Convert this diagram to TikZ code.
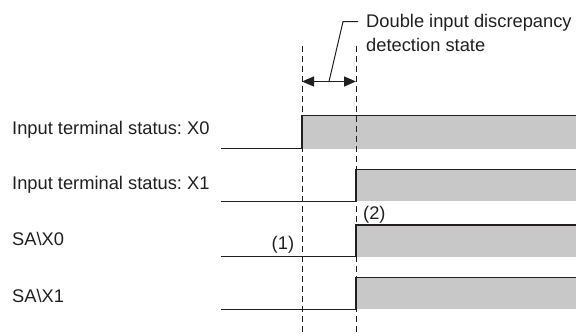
\documentclass[tikz,border=0pt]{standalone}
\usepackage{fontspec}
\setmainfont{Liberation Sans}
\usetikzlibrary{arrows.meta}
\definecolor{sig}{HTML}{C8C8C8}
\definecolor{ink}{HTML}{231F20}
\frenchspacing
\begin{document}
\begin{tikzpicture}[x=1pt,y=-1pt,
  lbl/.style={anchor=base west, inner sep=0pt, font=\fontsize{18.3}{22}\selectfont\frenchspacing, text=ink},
  wave/.style={draw=ink, line width=1.3pt},
  guide/.style={draw=ink, line width=1pt, dash pattern=on 6pt off 4pt},
  dimline/.style={draw=ink, line width=1.3pt, {Triangle[length=12pt,width=10pt]}-{Triangle[length=12pt,width=10pt]}},
  leader/.style={draw=ink, line width=1pt}]
\useasboundingbox (0,0) rectangle (576,336);

% signal labels
\node[lbl] (lx0) at (12,134.3) {Input terminal status: X0};
\node[lbl] (lx1) at (12,190) {Input terminal status: X1};
\node[lbl] (ls0) at (12,245.7) {SA\textbackslash X0};
\node[lbl] (ls1) at (12,302.3) {SA\textbackslash X1};

% waveforms
\fill[sig] (302,115.3) rectangle (576,148.7);
\draw[wave] (221,148.7) -- (302,148.7) -- (302,115.3) -- (576,115.3);

\fill[sig] (356,169.3) rectangle (576,201.3);
\draw[wave] (221,201.3) -- (356,201.3) -- (356,169.3) -- (576,169.3);

\fill[sig] (356,225) rectangle (576,256.7);
\draw[wave] (221,256.7) -- (356,256.7) -- (356,225) -- (576,225);

\fill[sig] (356,277.3) rectangle (576,309.3);
\draw[wave] (221,309.3) -- (356,309.3) -- (356,277.3) -- (576,277.3);

% timing guides
\coordinate (g1t) at (302,46);
\coordinate (g1b) at (302,336);
\coordinate (g2t) at (356,46);
\coordinate (g2b) at (356,336);
\draw[guide] (g1t) -- (g1b);
\draw[guide] (g2t) -- (g2b);

% discrepancy interval
\coordinate (a1) at (302,81.5);
\coordinate (a2) at (356,81.5);
\coordinate (am) at (329,81.5);
\draw[dimline] (a1) -- (a2);
\node[lbl] (t1) at (366,28) {Double input discrepancy};
\node[lbl] (t2) at (366,51.5) {detection state};
\coordinate (bend) at (343,21.7);
\coordinate (lend) at (358,21.7);
\draw[leader] (am) -- (bend) -- (lend);

% markers
\node[lbl, anchor=base east] (m1) at (294.3,250) {(1)};
\node[lbl] (m2) at (363,219.5) {(2)};
\end{tikzpicture}
\end{document}
